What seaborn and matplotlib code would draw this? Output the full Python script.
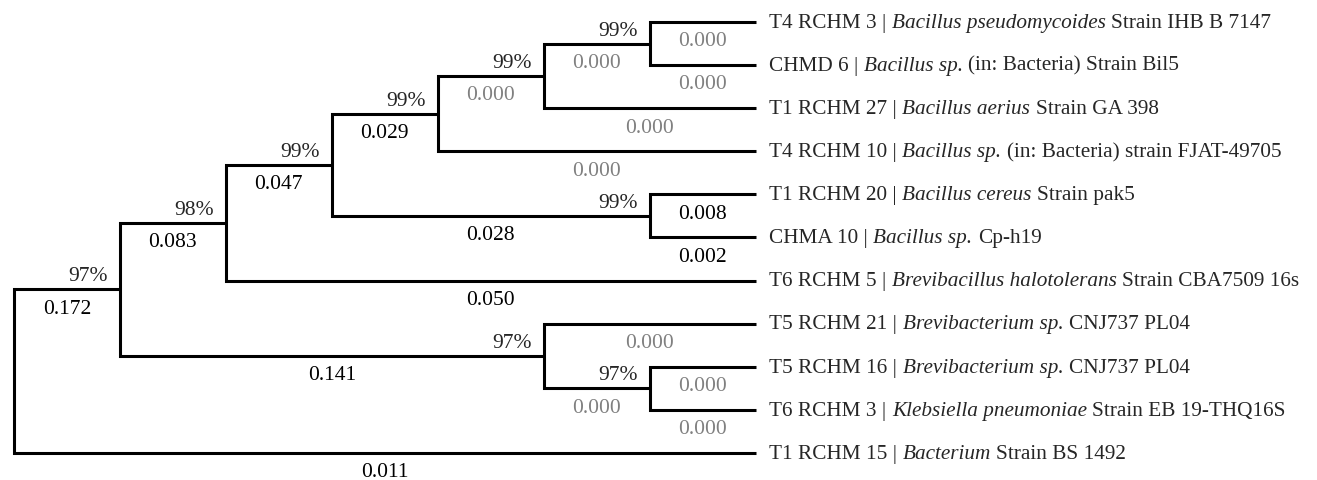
import matplotlib
matplotlib.use("Agg")
import matplotlib.pyplot as plt
import seaborn as sns
import pandas as pd

# Leaves, top to bottom
leaf_ids = ["T4 RCHM 3", "CHMD 6", "T1 RCHM 27", "T4 RCHM 10", "T1 RCHM 20",
            "CHMA 10", "T6 RCHM 5", "T5 RCHM 21", "T5 RCHM 16", "T6 RCHM 3", "T1 RCHM 15"]
leaf_species = ["Bacillus pseudomycoides", "Bacillus sp.", "Bacillus aerius", "Bacillus sp.",
                "Bacillus cereus", "Bacillus sp.", "Brevibacillus halotolerans",
                "Brevibacterium sp.", "Brevibacterium sp.", "Klebsiella pneumoniae", "Bacterium"]
leaf_strains = ["Strain IHB B 7147", "(in: Bacteria) Strain Bil5", "Strain GA 398",
                "(in: Bacteria) strain FJAT-49705", "Strain pak5", "Cp-h19",
                "Strain CBA7509 16s", "CNJ737 PL04", "CNJ737 PL04",
                "Strain EB 19-THQ16S", "Strain BS 1492"]
leaf_lengths = [0.000, 0.000, 0.000, 0.000, 0.008, 0.002, 0.050, 0.000, 0.000, 0.000, 0.011]

# Internal nodes (children listed top to bottom)
node_names = ["n1", "n2", "n3", "n4", "n5", "n6", "n7", "n8", "n9", "root"]
node_children = [("T4 RCHM 3", "CHMD 6"), ("n1", "T1 RCHM 27"), ("n2", "T4 RCHM 10"),
                 ("T1 RCHM 20", "CHMA 10"), ("n3", "n4"), ("n5", "T6 RCHM 5"),
                 ("T5 RCHM 16", "T6 RCHM 3"), ("T5 RCHM 21", "n7"), ("n6", "n8"),
                 ("n9", "T1 RCHM 15")]
node_support = [99, 99, 99, 99, 99, 98, 97, 97, 97, None]
node_lengths = [0.000, 0.000, 0.029, 0.028, 0.047, 0.083, 0.000, 0.141, 0.172, None]

FS_NUM = 15.5
FS_LEAF = 15.3
GRAY = "#808080"

# Layout: leaves get their row, nodes sit at mean of children, x by node height
ypos = {name: i for i, name in enumerate(leaf_ids)}
height = {name: 0 for name in leaf_ids}
children = dict(zip(node_names, node_children))
for name in node_names:
    kids = children[name]
    ypos[name] = sum(ypos[k] for k in kids) / len(kids)
    height[name] = max(height[k] for k in kids) + 1
depth = height["root"]
xpos = {name: depth - h for name, h in height.items()}

blen = dict(zip(leaf_ids, leaf_lengths))
blen.update(dict(zip(node_names, node_lengths)))
support = dict(zip(node_names, node_support))

# one bracket path per node: upper child -> node -> lower child
rows = []
for name in node_names:
    top, bot = children[name]
    rows += [(name, xpos[top], ypos[top]), (name, xpos[name], ypos[top]),
             (name, xpos[name], ypos[bot]), (name, xpos[bot], ypos[bot])]
df = pd.DataFrame(rows, columns=["node", "x", "y"])

sns.set_theme(style="white")
plt.rcParams["font.family"] = ["Liberation Serif", "DejaVu Serif"]

fig = plt.figure(figsize=(13.17, 4.81), dpi=100)
ax = fig.add_axes([0, 0, 1, 1])
sns.lineplot(data=df, x="x", y="y", units="node", estimator=None, sort=False,
             color="black", lw=2.2, ax=ax, legend=False)
for line in ax.get_lines():
    line.set_solid_joinstyle("miter")
    line.set_solid_capstyle("butt")

# bootstrap values and branch lengths
for name in node_names:
    for k in children[name]:
        mid = (xpos[name] + xpos[k]) / 2
        val = blen[k]
        ax.annotate(f"{val:.3f}", xy=(mid, ypos[k]), xytext=(0, -16.8),
                    textcoords="offset points", ha="center", va="baseline",
                    fontsize=FS_NUM, color=GRAY if val == 0 else "black")
        if k in support and support[k] is not None:
            ax.annotate(f"{support[k]}%", xy=(xpos[k], ypos[k]), xytext=(-8.6, 6.5),
                        textcoords="offset points", ha="right", va="baseline",
                        fontsize=FS_NUM)

# leaf labels: id | species (italic) strain
for name, sp, st in zip(leaf_ids, leaf_species, leaf_strains):
    prev = ax.annotate(f"{name} |", xy=(xpos[name], ypos[name]), xytext=(10, -3.5),
                       textcoords="offset points", ha="left", va="baseline",
                       fontsize=FS_LEAF)
    for text, style in [(sp, "italic"), (st, "normal")]:
        prev = ax.annotate(text, xy=(1, 0), xycoords=prev, xytext=(3.8, 0),
                           textcoords="offset points", ha="left", va="bottom",
                           fontsize=FS_LEAF, style=style)

ax.set_xlim(-0.132, 12.30)
ax.set_ylim(10.63, -0.534)
ax.axis("off")

fig.savefig("out.png", dpi=100)
